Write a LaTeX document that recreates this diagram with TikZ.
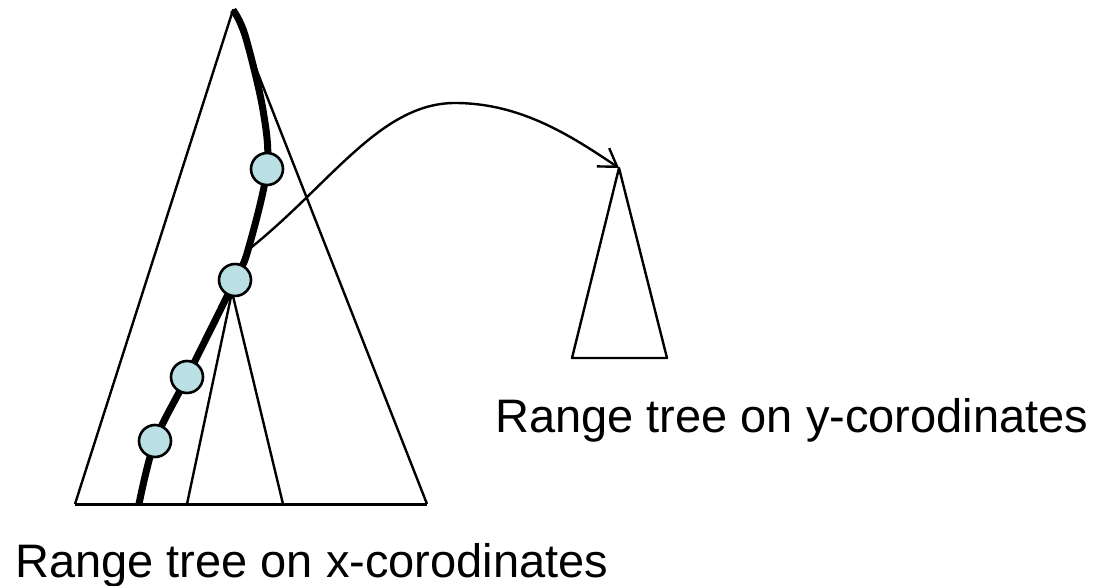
\documentclass[tikz,border=0pt]{standalone}
\usepackage{fontspec}
\setmainfont{Liberation Sans}
\usetikzlibrary{arrows.meta}
\definecolor{nodefill}{RGB}{186,224,227}

\begin{document}
\begin{tikzpicture}[x=1pt, y=-1pt,
    treeline/.style={line width=2.4pt, line join=round},
    visited/.style={circle, draw, line width=2.6pt, fill=nodefill,
        minimum size=32pt, inner sep=0pt},
    caption/.style={anchor=base west, inner sep=0pt,
        font=\fontsize{47}{56}\selectfont}]
    \useasboundingbox (0,0) rectangle (1103,586);

    % range tree on x
    \coordinate (xtop) at (233,10);
    \coordinate (xleft) at (75,504);
    \coordinate (xright) at (427,504);
    \draw[treeline] (xleft) -- (xtop) -- (xright);
    \draw[line width=3pt] (xleft) -- (xright);

    % subtree below the split node
    \coordinate (subtop) at (232,292);
    \draw[treeline] (187,504) -- (subtop) -- (283,504);

    % search path
    \coordinate (p1) at (267,169);
    \coordinate (fork) at (248,250);
    \coordinate (p2) at (235,280);
    \coordinate (p3) at (187,377);
    \coordinate (p4) at (155,441);
    \draw[line width=7pt] plot[smooth, tension=0.55]
        coordinates {(xtop) (245,35) (263,110) (p1) (fork) (p2) (p3) (p4) (139,504)};

    \foreach \i in {1,...,4} {
        \node[visited] (v\i) at (p\i) {};
    }

    % range tree on y
    \coordinate (ytop) at (619,168);
    \draw[treeline] (ytop) -- (572,358) -- (667,358) -- cycle;

    \draw[treeline, -{Straight Barb[length=17pt, width=22pt]}]
        (fork) .. controls (330,185) and (380,103) .. (455,103)
        .. controls (520,103) and (570,135) .. (ytop);

    \node[caption] (ylabel) at (495,432) {Range tree on y-corodinates};
    \node[caption] (xlabel) at (15,577) {Range tree on x-corodinates};
\end{tikzpicture}
\end{document}
